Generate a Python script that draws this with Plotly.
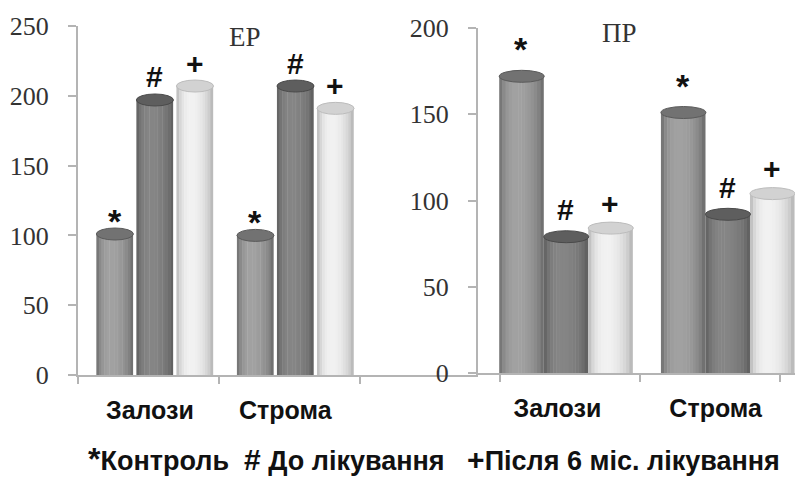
import plotly.graph_objects as go

# ---------------- data ----------------
categories = ["Залози", "Строма"]
series_names = ["Контроль", "До лікування", "Після 6 міс. лікування"]
series_marks = ["*", "#", "+"]

ep_control = [101, 100]
ep_before = [197, 207]
ep_after = [207, 191]

pr_control = [172, 151]
pr_before = [79, 92]
pr_after = [84, 104]

ep_ticks = [0, 50, 100, 150, 200, 250]
pr_ticks = [0, 50, 100, 150, 200]

panel_titles = ["ЕР", "ПР"]
legend_text = ("<b><span style='font-size:32px'>*</span></b>Контроль  "
               "<b><span style='font-size:30px'>#</span></b> До лікування   "
               "<b><span style='font-size:30px'>+</span></b>Після 6 міс. лікування")

# ---------------- styles ----------------
W, H = 795, 477
AX = "#b4b4b4"
SERIF = "Liberation Serif"
SANS = "Liberation Sans"

# (edge dark, highlight light, top colour, top outline)
series_style = [
    ((0x60, 0x60, 0x60), (0xa2, 0xa2, 0xa2), "#727272", "#5a5a5a"),
    ((0x55, 0x55, 0x55), (0x86, 0x86, 0x86), "#5e5e5e", "#4a4a4a"),
    ((0xa8, 0xa8, 0xa8), (0xf2, 0xf2, 0xf2), "#d2d2d2", "#bcbcbc"),
]
N_STRIPS = 14


def shade(dark, light, t):
    h = 0.38
    if t < h:
        p = 1 - ((h - t) / h) ** 2
    else:
        p = 1 - ((t - h) / (1 - h)) ** 2
    p = max(p, 0) ** 0.6
    c = [int(d + (l - d) * p) for d, l in zip(dark, light)]
    return "rgb(%d,%d,%d)" % tuple(c)


panels = [
    dict(values=[ep_control, ep_before, ep_after], ticks=ep_ticks,
         xa="x", ya="y", xdom=[78 / W, 478 / W], ydom=[1 - 375 / H, 1 - 26 / H],
         xrange=[-0.5, 2.337], yrange=[0, 250],
         group_pos=[0.043, 1.04], offsets=[-0.284, 0.0, 0.284], width=0.258,
         label_pos=[0.01, 0.97], ell=6, mshift=[21, 23, 23],
         title_xy=(245, 37)),
    dict(values=[pr_control, pr_before, pr_after], ticks=pr_ticks,
         xa="x2", ya="y2", xdom=[478 / W, 1.0], ydom=[1 - 373 / H, 1 - 28 / H],
         xrange=[-0.657, 1.607], yrange=[0, 200],
         group_pos=[-0.03, 1.125], offsets=[-0.318, 0.0, 0.318], width=0.315,
         label_pos=[-0.09, 1.04], ell=6, mshift=[35, 27, 25],
         title_xy=(619, 33)),
]

fig = go.Figure()
shapes = []
annotations = []

for pi, p in enumerate(panels):
    w = p["width"]
    for s, vals in enumerate(p["values"]):
        dark, light, topc, topl = series_style[s]
        xs = [g + p["offsets"][s] for g in p["group_pos"]]
        sw = w / N_STRIPS
        for k in range(N_STRIPS):
            t = (k + 0.5) / N_STRIPS
            fig.add_trace(go.Bar(
                x=xs, y=vals, xaxis=p["xa"], yaxis=p["ya"],
                width=sw * 1.15, offset=-w / 2 + k * sw,
                marker=dict(color=shade(dark, light, t), line=dict(width=0)),
                showlegend=False, hoverinfo="skip",
            ))
        for x, v in zip(xs, vals):
            shapes.append(dict(
                type="circle", xref=p["xa"], yref=p["ya"],
                x0=x - w / 2, x1=x + w / 2 + w * 0.02,
                ysizemode="pixel", yanchor=v, y0=-p["ell"], y1=p["ell"],
                fillcolor=topc, line=dict(color=topl, width=1), layer="above",
            ))
            annotations.append(dict(
                x=x, y=v, xref=p["xa"], yref=p["ya"], text="<b>%s</b>" % series_marks[s],
                showarrow=False, yshift=p["mshift"][s] + (-8 if s == 0 else 0),
                xanchor="center", yanchor="middle",
                font=dict(family=SANS, size=34 if s == 0 else 30, color="#111"),
            ))
    annotations.append(dict(
        x=p["title_xy"][0] / W, y=1 - p["title_xy"][1] / H, xref="paper", yref="paper",
        xanchor="center", yanchor="middle",
        text=panel_titles[pi], showarrow=False,
        font=dict(family=SERIF, size=27, color="#333"),
    ))

annotations.append(dict(
    x=434 / W, y=1 - 459 / H, xref="paper", yref="paper", text=legend_text,
    xanchor="center", yanchor="middle",
    showarrow=False, font=dict(family=SANS, size=27, color="#111", weight="bold"),
))


def xaxis_cfg(p):
    return dict(domain=p["xdom"], range=p["xrange"], showgrid=False, zeroline=False,
                showline=True, linecolor=AX, linewidth=2, automargin=False,
                tickmode="array", tickvals=p["label_pos"], ticktext=categories, ticks="",
                tickfont=dict(family=SANS, size=25, color="#111", weight="bold"),
                ticklabelstandoff=12,
                minor=dict(ticks="outside", ticklen=7, tickcolor=AX, tickwidth=1.5,
                           tick0=-0.5, dtick=1, showgrid=False),
                fixedrange=True)


def yaxis_cfg(p):
    return dict(domain=p["ydom"], range=p["yrange"], showgrid=False, zeroline=False,
                showline=True, linecolor=AX, linewidth=2, automargin=False,
                tickmode="array", tickvals=p["ticks"], ticks="outside", ticklen=8,
                tickcolor=AX, tickwidth=1.5,
                tickfont=dict(family=SERIF, size=26, color="#333"),
                ticklabelstandoff=14, fixedrange=True)


fig.update_layout(
    width=W, height=H, margin=dict(l=0, r=0, t=0, b=0, pad=0, autoexpand=False),
    paper_bgcolor="white", plot_bgcolor="white",
    barmode="overlay", showlegend=False,
    xaxis=dict(xaxis_cfg(panels[0]), anchor="y"),
    yaxis=dict(yaxis_cfg(panels[0]), anchor="x"),
    xaxis2=dict(xaxis_cfg(panels[1]), anchor="y2"),
    yaxis2=dict(yaxis_cfg(panels[1]), anchor="x2"),
    shapes=shapes, annotations=annotations,
)

fig.write_html("out.html", config={"displayModeBar": False},
               post_script="document.body.style.margin='0';document.body.style.overflow='hidden';")
